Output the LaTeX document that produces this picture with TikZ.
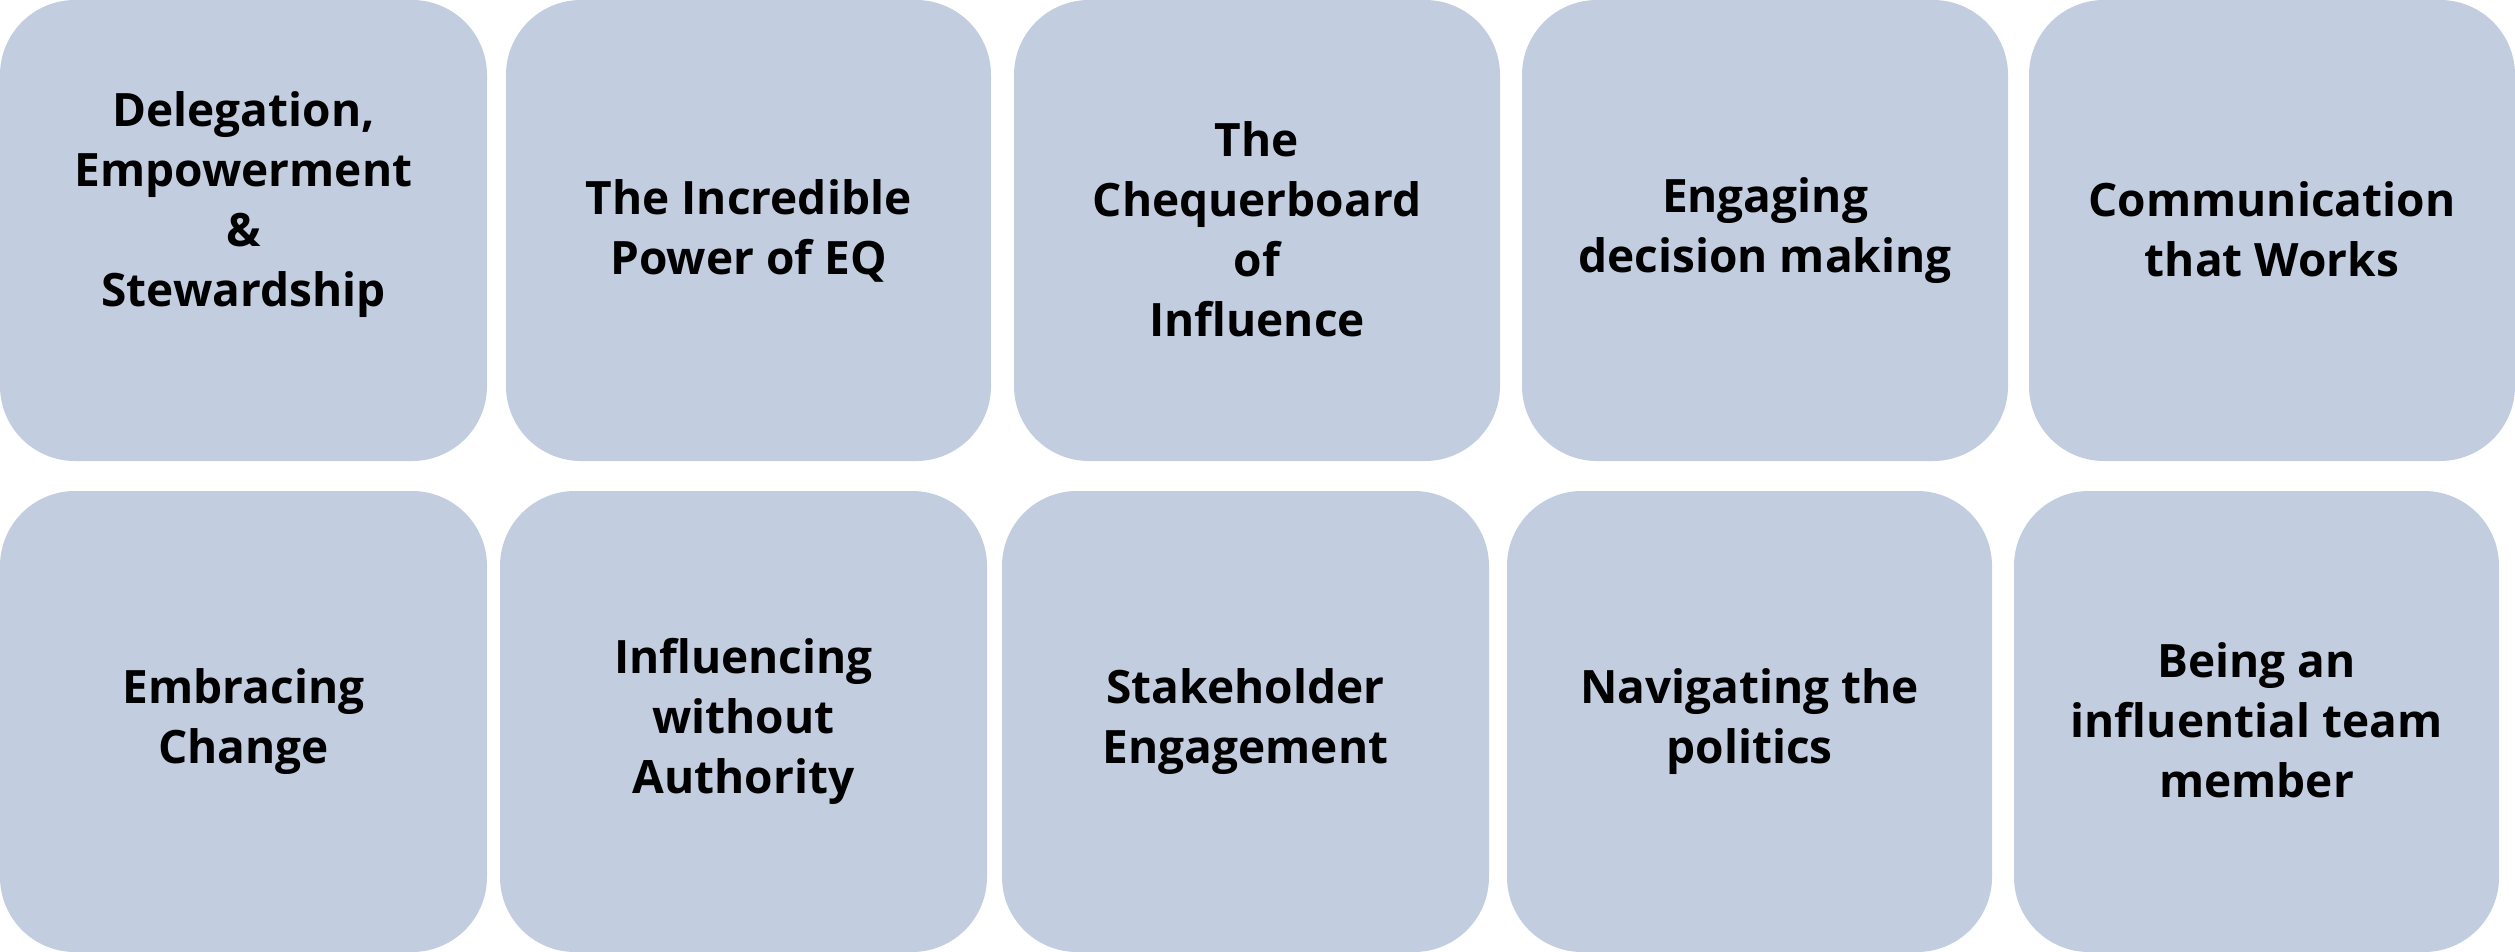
\documentclass[tikz,border=0pt]{standalone}
\usepackage{fontspec}
\setmainfont{Open Sans}
\definecolor{tilefill}{RGB}{194,205,224}
\newcommand\lnstrut{\rule[-3pt]{0pt}{60pt}}
\begin{document}
\begin{tikzpicture}[x=1pt,y=-1pt,
  tile/.style={fill=tilefill, draw=none, rounded corners=75pt, inner sep=0pt, outer sep=0pt,
    align=center, text=black, font=\fontsize{46}{60}\selectfont\bfseries,
    execute at begin node=\lnstrut, execute at end node=\lnstrut}]
\useasboundingbox (0,0) rectangle (2515,952);
% top row
\node[tile, minimum width=487pt, minimum height=461pt] (t1) at (243.5,230.5) {Delegation,\\Empowerment\\\&\\Stewardship\\};
\node[tile, minimum width=485pt, minimum height=461pt] (t2) at (748.5,230.5) {The Incredible\\Power of EQ};
\node[tile, minimum width=486pt, minimum height=461pt] (t3) at (1257,230.5) {The\\Chequerboard\\of\\Influence};
\node[tile, minimum width=486pt, minimum height=461pt] (t4) at (1765,230.5) {Engaging\\decision making};
\node[tile, minimum width=486pt, minimum height=461pt] (t5) at (2272,230.5) {Communication\\that Works};
% bottom row
\node[tile, minimum width=487pt, minimum height=461pt] (u1) at (243.5,721.5) {Embracing\\Change};
\node[tile, minimum width=487pt, minimum height=461pt] (u2) at (743.5,721.5) {Influencing\\without\\Authority};
\node[tile, minimum width=487pt, minimum height=461pt] (u3) at (1245.5,721.5) {Stakeholder\\Engagement};
\node[tile, minimum width=485pt, minimum height=461pt] (u4) at (1749.5,721.5) {Navigating the\\politics};
\node[tile, minimum width=485pt, minimum height=461pt] (u5) at (2256.5,721.5) {Being an\\influential team\\member};
\end{tikzpicture}
\end{document}
